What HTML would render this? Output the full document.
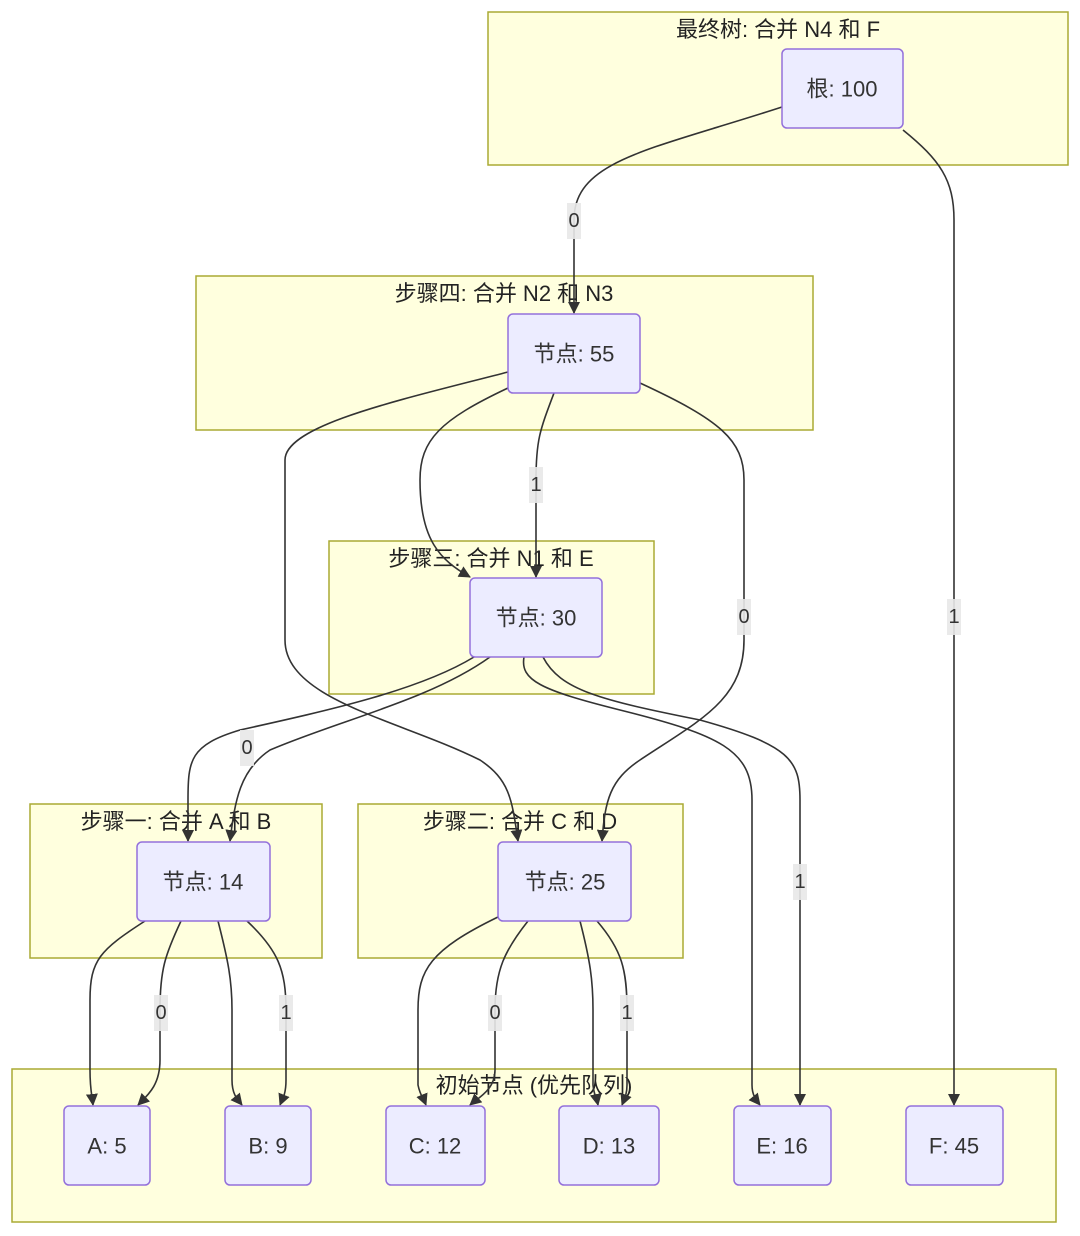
<!DOCTYPE html>
<html><head><meta charset="utf-8"><style>
html,body{margin:0;padding:0;background:#fff;}
svg{display:block;}
text{font-family:"Liberation Sans","Noto Sans CJK SC",sans-serif;fill:#333;}
.cl{fill:#ffffde;stroke:#aaaa33;stroke-width:1.5;}
.nd{fill:#ececff;stroke:#9370db;stroke-width:1.5;}
.e{fill:none;stroke:#333;stroke-width:1.6;}
.lb{fill:#e8e8e8;opacity:0.9;}
.t{font-size:22px;text-anchor:middle;fill:#222;}
.n{font-size:22px;text-anchor:middle;dominant-baseline:central;}
.l{font-size:20px;text-anchor:middle;dominant-baseline:central;}
</style></head><body>
<svg width="1080" height="1236" viewBox="0 0 1080 1236" xmlns="http://www.w3.org/2000/svg">
<defs><marker id="a" viewBox="0 0 10 10" refX="9" refY="5" markerWidth="7" markerHeight="7" orient="auto-start-reverse" markerUnits="userSpaceOnUse"><path d="M0,0 L10,5 L0,10 z" fill="#333"/></marker>
<marker id="m" viewBox="0 0 12 12" refX="11" refY="6" markerWidth="12" markerHeight="12" orient="auto" markerUnits="userSpaceOnUse"><path d="M0,0 L12,6 L0,12 z" fill="#333"/></marker></defs>

<rect class="cl" x="488" y="12" width="580" height="153"/>
<text class="t" x="778" y="37">最终树: 合并 N4 和 F</text>
<rect class="cl" x="196" y="276" width="617" height="154"/>
<text class="t" x="504" y="301">步骤四: 合并 N2 和 N3</text>
<rect class="cl" x="329" y="541" width="325" height="153"/>
<text class="t" x="491" y="566">步骤三: 合并 N1 和 E</text>
<rect class="cl" x="30" y="804" width="292" height="154"/>
<text class="t" x="176" y="829">步骤一: 合并 A 和 B</text>
<rect class="cl" x="358" y="804" width="325" height="154"/>
<text class="t" x="520" y="829">步骤二: 合并 C 和 D</text>
<rect class="cl" x="12" y="1069" width="1044" height="153"/>
<text class="t" x="534" y="1093">初始节点 (优先队列)</text>

<g marker-end="url(#m)">
<path class="e" d="M782,107 C650,150 574,160 574,220 L574,313"/>
<path class="e" d="M903,130 C940,160 954,180 954,220 L954,1105"/>
<path class="e" d="M508,372 C400,400 285,425 285,460 L285,640 C285,700 400,720 480,760 C510,780 512,800 518,841"/>
<path class="e" d="M508,388 C440,420 420,440 420,480 C420,540 440,560 470,577"/>
<path class="e" d="M554,393 C540,430 536,440 536,480 L536,577"/>
<path class="e" d="M640,383 C720,420 744,440 744,480 L744,640 C744,700 700,720 640,760 C610,780 605,800 602,841"/>
<path class="e" d="M474,657 C420,690 330,710 240,730 C190,745 188,760 188,800 L188,841"/>
<path class="e" d="M490,657 C430,700 340,720 270,750 C240,770 235,800 230,841"/>
<path class="e" d="M524,657 C520,680 540,690 620,710 C720,735 752,750 752,800 L752,1085 C752,1095 756,1100 760,1105"/>
<path class="e" d="M543,657 C560,690 600,700 700,720 C790,745 800,760 800,800 L800,1105"/>
<path class="e" d="M145,921 C100,950 90,960 90,1000 L90,1070 C90,1090 92,1095 93,1105"/>
<path class="e" d="M181,921 C165,955 160,970 160,1010 L160,1060 C160,1085 148,1095 138,1105"/>
<path class="e" d="M218,921 C228,960 232,980 232,1010 L232,1080 C232,1095 238,1100 242,1105"/>
<path class="e" d="M247,921 C278,950 286,970 286,1010 L286,1080 C286,1095 282,1100 280,1105"/>
<path class="e" d="M498,917 C430,950 418,970 418,1010 L418,1085 C420,1095 424,1100 426,1105"/>
<path class="e" d="M528,921 C505,950 495,970 495,1010 L495,1070 C495,1090 478,1098 470,1105"/>
<path class="e" d="M580,921 C590,960 593,980 593,1010 L593,1085 C594,1095 597,1100 598,1105"/>
<path class="e" d="M597,921 C622,950 627,970 627,1010 L627,1085 C627,1095 624,1100 622,1105"/>
</g>

<rect class="lb" x="567" y="203" width="14" height="36"/><text class="l" x="574" y="221">0</text>
<rect class="lb" x="947" y="599" width="14" height="36"/><text class="l" x="954" y="617">1</text>
<rect class="lb" x="529" y="467" width="14" height="36"/><text class="l" x="536" y="485">1</text>
<rect class="lb" x="737" y="599" width="14" height="36"/><text class="l" x="744" y="617">0</text>
<rect class="lb" x="240" y="730" width="14" height="36"/><text class="l" x="247" y="748">0</text>
<rect class="lb" x="793" y="864" width="14" height="36"/><text class="l" x="800" y="882">1</text>
<rect class="lb" x="154" y="995" width="14" height="36"/><text class="l" x="161" y="1013">0</text>
<rect class="lb" x="279" y="995" width="14" height="36"/><text class="l" x="286" y="1013">1</text>
<rect class="lb" x="488" y="995" width="14" height="36"/><text class="l" x="495" y="1013">0</text>
<rect class="lb" x="620" y="995" width="14" height="36"/><text class="l" x="627" y="1013">1</text>

<rect class="nd" x="782" y="49" width="121" height="79" rx="5"/><text class="n" x="842" y="89">根: 100</text>
<rect class="nd" x="508" y="314" width="132" height="79" rx="5"/><text class="n" x="574" y="354">节点: 55</text>
<rect class="nd" x="470" y="578" width="132" height="79" rx="5"/><text class="n" x="536" y="618">节点: 30</text>
<rect class="nd" x="137" y="842" width="133" height="79" rx="5"/><text class="n" x="203" y="882">节点: 14</text>
<rect class="nd" x="498" y="842" width="133" height="79" rx="5"/><text class="n" x="565" y="882">节点: 25</text>
<rect class="nd" x="64" y="1106" width="86" height="79" rx="5"/><text class="n" x="107" y="1146">A: 5</text>
<rect class="nd" x="225" y="1106" width="86" height="79" rx="5"/><text class="n" x="268" y="1146">B: 9</text>
<rect class="nd" x="386" y="1106" width="99" height="79" rx="5"/><text class="n" x="435" y="1146">C: 12</text>
<rect class="nd" x="559" y="1106" width="100" height="79" rx="5"/><text class="n" x="609" y="1146">D: 13</text>
<rect class="nd" x="734" y="1106" width="97" height="79" rx="5"/><text class="n" x="782" y="1146">E: 16</text>
<rect class="nd" x="906" y="1106" width="97" height="79" rx="5"/><text class="n" x="954" y="1146">F: 45</text>
</svg>
</body></html>
